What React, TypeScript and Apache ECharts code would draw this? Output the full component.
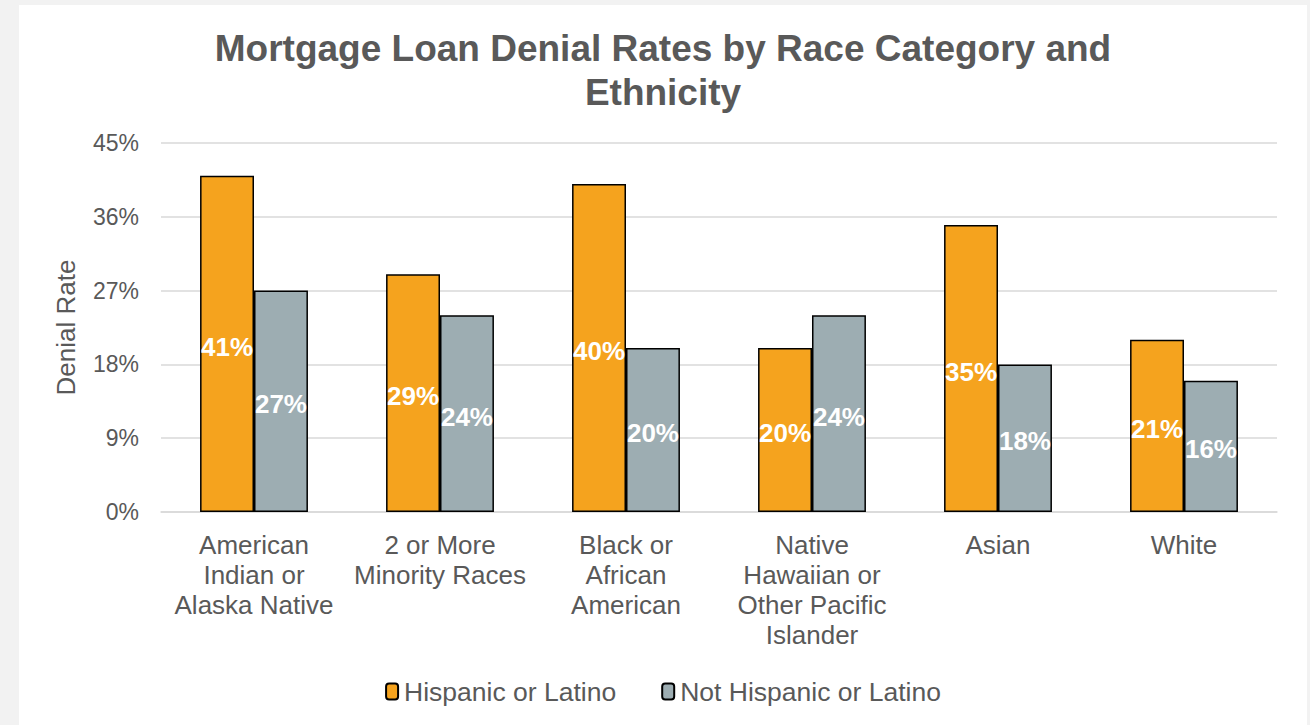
import React, { useEffect, useRef } from "react";
import * as echarts from "echarts";

const categories = [
  "American\nIndian or\nAlaska Native",
  "2 or More\nMinority Races",
  "Black or\nAfrican\nAmerican",
  "Native\nHawaiian or\nOther Pacific\nIslander",
  "Asian",
  "White",
];
const hispanic = [41, 29, 40, 20, 35, 21];
const notHispanic = [27, 24, 20, 24, 18, 16];
const seriesNames = ["Hispanic or Latino", "Not Hispanic or Latino"];
const yMin = 0;
const yMax = 45;
const yInterval = 9;

const FONT = "Arial, 'Liberation Sans', sans-serif";
const TEXT = "#595959";

export default function App() {
  const ref = useRef<HTMLDivElement>(null);
  useEffect(() => {
    if (!ref.current) return;
    const chart = echarts.init(ref.current, undefined, { renderer: "svg" });
    const label = {
      show: true,
      position: "inside",
      offset: [0, 3],
      color: "#ffffff",
      fontWeight: "bold",
      fontSize: 26,
      fontFamily: FONT,
      formatter: "{c}%",
    };
    chart.setOption({
      animation: false,
      backgroundColor: "#ffffff",
      textStyle: { fontFamily: FONT },
      title: {
        text: "Mortgage Loan Denial Rates by Race Category and\nEthnicity",
        left: "center",
        top: 16,
        textStyle: {
          fontFamily: FONT,
          fontSize: 37,
          fontWeight: "bold",
          color: TEXT,
          lineHeight: 44,
        },
      },
      legend: {
        data: seriesNames,
        left: "center",
        top: 668,
        itemWidth: 12,
        itemHeight: 16,
        itemGap: 45,
        textStyle: { fontFamily: FONT, fontSize: 26.5, color: TEXT, padding: [0, 0, 0, 1] },
      },
      grid: { left: 142, right: 30, top: 138, bottom: 213, containLabel: false },
      xAxis: {
        type: "category",
        data: categories,
        axisLine: { lineStyle: { color: "#d9d9d9", width: 1.5 } },
        axisTick: { show: false },
        axisLabel: {
          fontFamily: FONT,
          fontSize: 26,
          lineHeight: 30,
          color: TEXT,
          margin: 18,
          interval: 0,
        },
      },
      yAxis: {
        type: "value",
        min: yMin,
        max: yMax,
        interval: yInterval,
        name: "Denial Rate",
        nameLocation: "middle",
        nameRotate: 90,
        nameGap: 82,
        nameTextStyle: { fontFamily: FONT, fontSize: 26, color: TEXT },
        axisLine: { show: false },
        axisTick: { show: false },
        axisLabel: {
          formatter: "{value}%",
          fontFamily: FONT,
          fontSize: 23,
          color: TEXT,
          margin: 22,
        },
        splitLine: { lineStyle: { color: "#d9d9d9", width: 1.5 } },
      },
      series: [
        {
          name: seriesNames[0],
          type: "bar",
          data: hispanic,
          barGap: "0%",
          barCategoryGap: "42%",
          itemStyle: { color: "#F5A31E", borderColor: "#000000", borderWidth: 1.5 },
          label,
        },
        {
          name: seriesNames[1],
          type: "bar",
          data: notHispanic,
          barGap: "0%",
          barCategoryGap: "42%",
          itemStyle: { color: "#9DADB2", borderColor: "#000000", borderWidth: 1.5 },
          label,
        },
      ],
    });
    return () => chart.dispose();
  }, []);
  return (
    <div
      style={{
        position: "fixed",
        left: 0,
        top: 0,
        width: 1310,
        height: 725,
        background: "#f2f2f2",
        overflow: "hidden",
      }}
    >
      <div
        ref={ref}
        style={{ position: "absolute", left: 19, top: 5, width: 1288, height: 720 }}
      />
    </div>
  );
}
